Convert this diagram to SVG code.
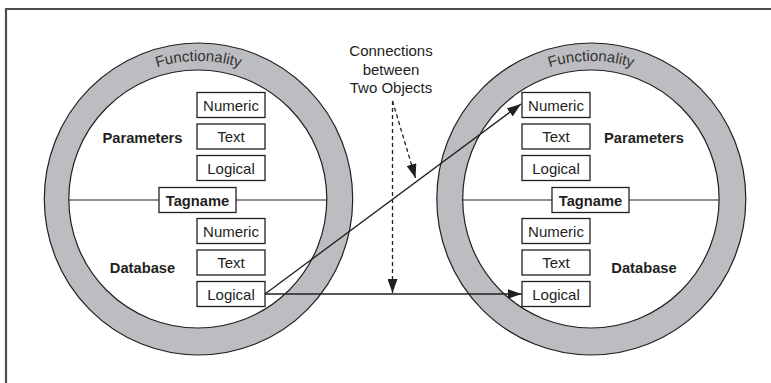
<svg xmlns="http://www.w3.org/2000/svg" width="771" height="383" viewBox="0 0 771 383">
<style>
.ring{fill:#bcbdc0;stroke:#231f20;stroke-width:1.2}
.hole{fill:#ffffff;stroke:#231f20;stroke-width:1.2}
.box{fill:#ffffff;stroke:#231f20;stroke-width:1.3}
.t{font-family:"Liberation Sans",Arial,sans-serif;font-size:15px;fill:#231f20;text-anchor:middle}
.b{font-family:"Liberation Sans",Arial,sans-serif;font-size:14.7px;font-weight:bold;fill:#231f20;text-anchor:middle}
.f{font-family:"Liberation Sans",Arial,sans-serif;font-size:15px;fill:#333333;text-anchor:middle}
.div{stroke:#231f20;stroke-width:1.2;fill:none}
.con{stroke:#231f20;stroke-width:1.3;fill:none}
.dash{stroke:#231f20;stroke-width:1.3;fill:none;stroke-dasharray:4,3}
</style>
<defs>
<marker id="ah" markerWidth="14" markerHeight="10" refX="14" refY="5" orient="auto" markerUnits="userSpaceOnUse">
<path d="M0,0 L14,5 L0,10 Z" fill="#231f20"/>
</marker>
<path id="arcL" d="M60.5,199 A138,138 0 0 1 336.5,199"/>
<path id="arcR" d="M453,199 A138,138 0 0 1 729,199"/>
</defs>
<g id="frame">
<line x1="5" y1="9" x2="771" y2="9" stroke="#4d4d4d" stroke-width="2.2"/>
<line x1="6" y1="8" x2="6" y2="383" stroke="#4d4d4d" stroke-width="2.2"/>
</g>
<g id="object-left">
<ellipse class="ring" cx="198.5" cy="199" rx="154.2" ry="156"/>
<ellipse class="hole" cx="197.8" cy="199" rx="129" ry="129"/>
<text class="f"><textPath href="#arcL" startOffset="50%">Functionality</textPath></text>
<line class="div" x1="69" y1="200" x2="159" y2="200"/>
<line class="div" x1="236" y1="200" x2="327" y2="200"/>
<rect class="box" x="159" y="187.5" width="77" height="25"/>
<text class="b" x="197.5" y="206">Tagname</text>
<text class="b" x="142.5" y="143">Parameters</text>
<text class="b" x="142.5" y="273">Database</text>
<rect class="box" x="197" y="92.5" width="68" height="25"/>
<text class="t" x="231" y="110.5">Numeric</text>
<rect class="box" x="197" y="124" width="68" height="25"/>
<text class="t" x="231" y="142">Text</text>
<rect class="box" x="197" y="155.5" width="68" height="25"/>
<text class="t" x="231" y="173.5">Logical</text>
<rect class="box" x="197" y="218.5" width="68" height="25"/>
<text class="t" x="231" y="236.5">Numeric</text>
<rect class="box" x="197" y="250" width="68" height="25"/>
<text class="t" x="231" y="268">Text</text>
<rect class="box" x="197" y="281.5" width="68" height="25"/>
<text class="t" x="231" y="299.5">Logical</text>
</g>
<g id="object-right">
<ellipse class="ring" cx="591.3" cy="199" rx="154.5" ry="156"/>
<ellipse class="hole" cx="590.9" cy="199" rx="128.2" ry="129"/>
<text class="f"><textPath href="#arcR" startOffset="50%">Functionality</textPath></text>
<line class="div" x1="462" y1="200" x2="552" y2="200"/>
<line class="div" x1="629" y1="200" x2="719" y2="200"/>
<rect class="box" x="552" y="187.5" width="77" height="25"/>
<text class="b" x="590.5" y="206">Tagname</text>
<text class="b" x="644" y="143">Parameters</text>
<text class="b" x="644" y="273">Database</text>
<rect class="box" x="522" y="92.5" width="68" height="25"/>
<text class="t" x="556" y="110.5">Numeric</text>
<rect class="box" x="522" y="124" width="68" height="25"/>
<text class="t" x="556" y="142">Text</text>
<rect class="box" x="522" y="155.5" width="68" height="25"/>
<text class="t" x="556" y="173.5">Logical</text>
<rect class="box" x="522" y="218.5" width="68" height="25"/>
<text class="t" x="556" y="236.5">Numeric</text>
<rect class="box" x="522" y="250" width="68" height="25"/>
<text class="t" x="556" y="268">Text</text>
<rect class="box" x="522" y="281.5" width="68" height="25"/>
<text class="t" x="556" y="299.5">Logical</text>
</g>
<g id="caption">
<text class="t" x="391" y="56">Connections</text>
<text class="t" x="391" y="74.5">between</text>
<text class="t" x="391" y="93">Two Objects</text>
</g>
<g id="connectors">
<line class="con" x1="265" y1="294" x2="521.5" y2="294" marker-end="url(#ah)"/>
<line class="con" x1="265" y1="294" x2="521" y2="104" marker-end="url(#ah)"/>
<line class="dash" x1="392.5" y1="101" x2="392.5" y2="293" marker-end="url(#ah)"/>
<line class="dash" x1="392.5" y1="101" x2="415.5" y2="178" marker-end="url(#ah)"/>
</g>
</svg>
